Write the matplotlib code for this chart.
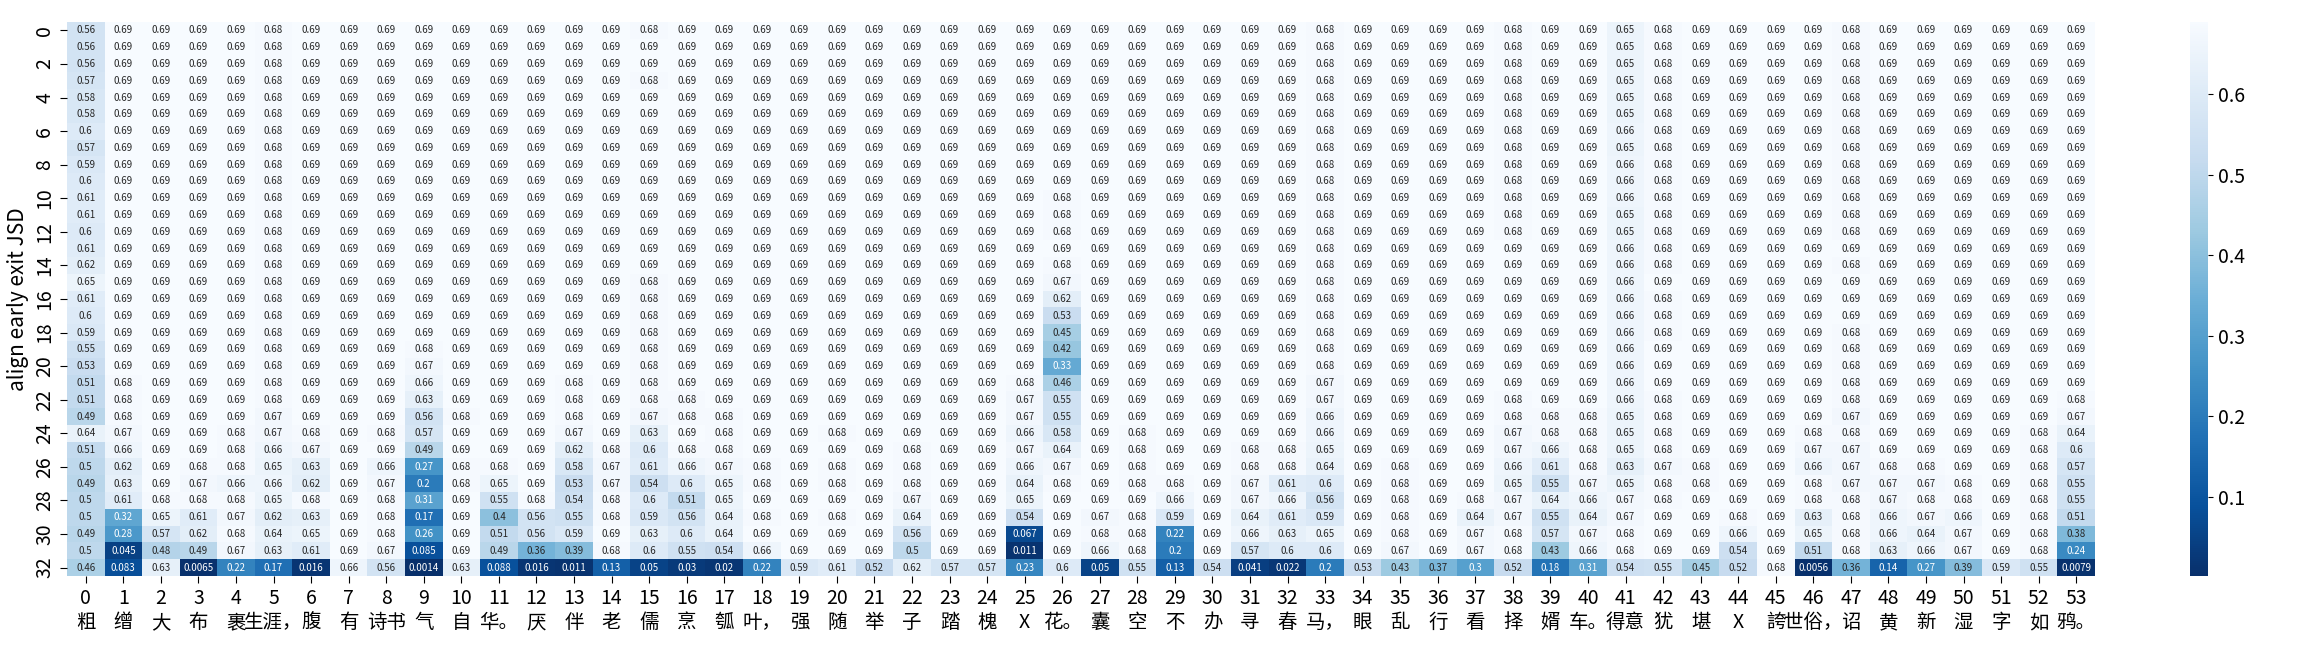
import matplotlib
matplotlib.use('Agg')
import matplotlib.pyplot as plt
import numpy as np
import seaborn as sns

plt.rcParams['font.family'] = ['Noto Sans CJK SC', 'DejaVu Sans']

# tokens of the poem (x axis)
tokens = ['粗', '缯', '大', '布', '裹', '生涯，', '腹', '有', '诗书', '气',
          '自', '华。', '厌', '伴', '老', '儒', '烹', '瓠', '叶，', '强',
          '随', '举', '子', '踏', '槐', 'X', '花。', '囊', '空', '不',
          '办', '寻', '春', '马，', '眼', '乱', '行', '看', '择', '婿',
          '车。', '得意', '犹', '堪', 'X', '誇', '世俗，', '诏', '黄', '新',
          '湿', '字', '如', '鸦。']

# JSD per layer (rows 0..32), one list per token column
c00 = [0.56, 0.56, 0.56, 0.57, 0.58, 0.58, 0.6, 0.57, 0.59, 0.6, 0.61, 0.61, 0.6, 0.61, 0.62, 0.65,
       0.61, 0.6, 0.59, 0.55, 0.53, 0.51, 0.51, 0.49, 0.64, 0.51, 0.5, 0.49, 0.5, 0.5, 0.49, 0.5, 0.46]
c01 = [0.69, 0.69, 0.69, 0.69, 0.69, 0.69, 0.69, 0.69, 0.69, 0.69, 0.69, 0.69, 0.69, 0.69, 0.69, 0.69,
       0.69, 0.69, 0.69, 0.69, 0.69, 0.68, 0.68, 0.68, 0.67, 0.66, 0.62, 0.63, 0.61, 0.32, 0.28, 0.045, 0.083]
c02 = [0.69, 0.69, 0.69, 0.69, 0.69, 0.69, 0.69, 0.69, 0.69, 0.69, 0.69, 0.69, 0.69, 0.69, 0.69, 0.69,
       0.69, 0.69, 0.69, 0.69, 0.69, 0.69, 0.69, 0.69, 0.69, 0.69, 0.69, 0.69, 0.68, 0.65, 0.57, 0.48, 0.63]
c03 = [0.69, 0.69, 0.69, 0.69, 0.69, 0.69, 0.69, 0.69, 0.69, 0.69, 0.69, 0.69, 0.69, 0.69, 0.69, 0.69,
       0.69, 0.69, 0.69, 0.69, 0.69, 0.69, 0.69, 0.69, 0.69, 0.69, 0.68, 0.67, 0.68, 0.61, 0.62, 0.49, 0.0065]
c04 = [0.69, 0.69, 0.69, 0.69, 0.69, 0.69, 0.69, 0.69, 0.69, 0.69, 0.69, 0.69, 0.69, 0.69, 0.69, 0.69,
       0.69, 0.69, 0.69, 0.69, 0.69, 0.69, 0.69, 0.69, 0.68, 0.68, 0.68, 0.66, 0.68, 0.67, 0.68, 0.67, 0.22]
c05 = [0.68, 0.68, 0.68, 0.68, 0.68, 0.68, 0.68, 0.68, 0.68, 0.68, 0.68, 0.68, 0.68, 0.68, 0.68, 0.68,
       0.68, 0.68, 0.68, 0.68, 0.68, 0.68, 0.68, 0.67, 0.67, 0.66, 0.65, 0.66, 0.65, 0.62, 0.64, 0.63, 0.17]
c06 = [0.69, 0.69, 0.69, 0.69, 0.69, 0.69, 0.69, 0.69, 0.69, 0.69, 0.69, 0.69, 0.69, 0.69, 0.69, 0.69,
       0.69, 0.69, 0.69, 0.69, 0.69, 0.69, 0.69, 0.69, 0.68, 0.67, 0.63, 0.62, 0.68, 0.63, 0.65, 0.61, 0.016]
c07 = [0.69, 0.69, 0.69, 0.69, 0.69, 0.69, 0.69, 0.69, 0.69, 0.69, 0.69, 0.69, 0.69, 0.69, 0.69, 0.69,
       0.69, 0.69, 0.69, 0.69, 0.69, 0.69, 0.69, 0.69, 0.69, 0.69, 0.69, 0.69, 0.69, 0.69, 0.69, 0.69, 0.66]
c08 = [0.69, 0.69, 0.69, 0.69, 0.69, 0.69, 0.69, 0.69, 0.69, 0.69, 0.69, 0.69, 0.69, 0.69, 0.69, 0.69,
       0.69, 0.69, 0.69, 0.69, 0.69, 0.69, 0.69, 0.69, 0.68, 0.69, 0.66, 0.67, 0.68, 0.68, 0.68, 0.67, 0.56]
c09 = [0.69, 0.69, 0.69, 0.69, 0.69, 0.69, 0.69, 0.69, 0.69, 0.69, 0.69, 0.69, 0.69, 0.69, 0.69, 0.69,
       0.69, 0.69, 0.69, 0.68, 0.67, 0.66, 0.63, 0.56, 0.57, 0.49, 0.27, 0.2, 0.31, 0.17, 0.26, 0.085, 0.0014]
c10 = [0.69, 0.69, 0.69, 0.69, 0.69, 0.69, 0.69, 0.69, 0.69, 0.69, 0.69, 0.69, 0.69, 0.69, 0.69, 0.69,
       0.69, 0.69, 0.69, 0.69, 0.69, 0.69, 0.69, 0.68, 0.69, 0.69, 0.68, 0.68, 0.69, 0.69, 0.69, 0.69, 0.63]
c11 = [0.69, 0.69, 0.69, 0.69, 0.69, 0.69, 0.69, 0.69, 0.69, 0.69, 0.69, 0.69, 0.69, 0.69, 0.69, 0.69,
       0.69, 0.69, 0.69, 0.69, 0.69, 0.69, 0.69, 0.69, 0.69, 0.69, 0.68, 0.65, 0.55, 0.4, 0.51, 0.49, 0.088]
c12 = [0.69, 0.69, 0.69, 0.69, 0.69, 0.69, 0.69, 0.69, 0.69, 0.69, 0.69, 0.69, 0.69, 0.69, 0.69, 0.69,
       0.69, 0.69, 0.69, 0.69, 0.69, 0.69, 0.69, 0.69, 0.69, 0.69, 0.69, 0.69, 0.68, 0.56, 0.56, 0.36, 0.016]
c13 = [0.69, 0.69, 0.69, 0.69, 0.69, 0.69, 0.69, 0.69, 0.69, 0.69, 0.69, 0.69, 0.69, 0.69, 0.69, 0.69,
       0.69, 0.69, 0.69, 0.69, 0.69, 0.68, 0.68, 0.68, 0.67, 0.62, 0.58, 0.53, 0.54, 0.55, 0.59, 0.39, 0.011]
c14 = [0.69, 0.69, 0.69, 0.69, 0.69, 0.69, 0.69, 0.69, 0.69, 0.69, 0.69, 0.69, 0.69, 0.69, 0.69, 0.69,
       0.69, 0.69, 0.69, 0.69, 0.69, 0.69, 0.69, 0.69, 0.69, 0.68, 0.67, 0.67, 0.68, 0.68, 0.69, 0.68, 0.13]
c15 = [0.68, 0.69, 0.69, 0.68, 0.69, 0.69, 0.69, 0.69, 0.69, 0.69, 0.69, 0.69, 0.69, 0.69, 0.69, 0.68,
       0.68, 0.68, 0.68, 0.68, 0.68, 0.68, 0.68, 0.67, 0.63, 0.6, 0.61, 0.54, 0.6, 0.59, 0.63, 0.6, 0.05]
c16 = [0.69, 0.69, 0.69, 0.69, 0.69, 0.69, 0.69, 0.69, 0.69, 0.69, 0.69, 0.69, 0.69, 0.69, 0.69, 0.69,
       0.69, 0.69, 0.69, 0.69, 0.69, 0.69, 0.68, 0.68, 0.69, 0.68, 0.66, 0.6, 0.51, 0.56, 0.6, 0.55, 0.03]
c17 = [0.69, 0.69, 0.69, 0.69, 0.69, 0.69, 0.69, 0.69, 0.69, 0.69, 0.69, 0.69, 0.69, 0.69, 0.69, 0.69,
       0.69, 0.69, 0.69, 0.69, 0.69, 0.69, 0.69, 0.68, 0.68, 0.68, 0.67, 0.65, 0.65, 0.64, 0.64, 0.54, 0.02]
c18 = [0.69, 0.69, 0.69, 0.69, 0.69, 0.69, 0.69, 0.69, 0.69, 0.69, 0.69, 0.69, 0.69, 0.69, 0.69, 0.69,
       0.69, 0.69, 0.69, 0.69, 0.69, 0.69, 0.69, 0.69, 0.69, 0.69, 0.68, 0.68, 0.69, 0.68, 0.69, 0.66, 0.22]
c19 = [0.69, 0.69, 0.69, 0.69, 0.69, 0.69, 0.69, 0.69, 0.69, 0.69, 0.69, 0.69, 0.69, 0.69, 0.69, 0.69,
       0.69, 0.69, 0.69, 0.69, 0.69, 0.69, 0.69, 0.69, 0.69, 0.69, 0.69, 0.69, 0.69, 0.69, 0.69, 0.69, 0.59]
c20 = [0.69, 0.69, 0.69, 0.69, 0.69, 0.69, 0.69, 0.69, 0.69, 0.69, 0.69, 0.69, 0.69, 0.69, 0.69, 0.69,
       0.69, 0.69, 0.69, 0.69, 0.69, 0.69, 0.69, 0.69, 0.68, 0.69, 0.68, 0.68, 0.69, 0.68, 0.69, 0.69, 0.61]
c21 = [0.69, 0.69, 0.69, 0.69, 0.69, 0.69, 0.69, 0.69, 0.69, 0.69, 0.69, 0.69, 0.69, 0.69, 0.69, 0.69,
       0.69, 0.69, 0.69, 0.69, 0.69, 0.69, 0.69, 0.69, 0.69, 0.69, 0.69, 0.69, 0.69, 0.69, 0.69, 0.69, 0.52]
c22 = [0.69, 0.69, 0.69, 0.69, 0.69, 0.69, 0.69, 0.69, 0.69, 0.69, 0.69, 0.69, 0.69, 0.69, 0.69, 0.69,
       0.69, 0.69, 0.69, 0.69, 0.69, 0.69, 0.69, 0.69, 0.69, 0.68, 0.68, 0.68, 0.67, 0.64, 0.56, 0.5, 0.62]
c23 = [0.69, 0.69, 0.69, 0.69, 0.69, 0.69, 0.69, 0.69, 0.69, 0.69, 0.69, 0.69, 0.69, 0.69, 0.69, 0.69,
       0.69, 0.69, 0.69, 0.69, 0.69, 0.69, 0.69, 0.69, 0.69, 0.69, 0.69, 0.69, 0.69, 0.69, 0.69, 0.69, 0.57]
c24 = [0.69, 0.69, 0.69, 0.69, 0.69, 0.69, 0.69, 0.69, 0.69, 0.69, 0.69, 0.69, 0.69, 0.69, 0.69, 0.69,
       0.69, 0.69, 0.69, 0.69, 0.69, 0.69, 0.69, 0.69, 0.69, 0.69, 0.69, 0.69, 0.69, 0.69, 0.69, 0.69, 0.57]
c25 = [0.69, 0.69, 0.69, 0.69, 0.69, 0.69, 0.69, 0.69, 0.69, 0.69, 0.69, 0.69, 0.69, 0.69, 0.69, 0.69,
       0.69, 0.69, 0.69, 0.69, 0.69, 0.68, 0.67, 0.67, 0.66, 0.67, 0.66, 0.64, 0.65, 0.54, 0.067, 0.011, 0.23]
c26 = [0.69, 0.69, 0.69, 0.69, 0.69, 0.69, 0.69, 0.69, 0.69, 0.69, 0.68, 0.68, 0.68, 0.69, 0.68, 0.67,
       0.62, 0.53, 0.45, 0.42, 0.33, 0.46, 0.55, 0.55, 0.58, 0.64, 0.67, 0.68, 0.69, 0.69, 0.69, 0.69, 0.6]
c27 = [0.69, 0.69, 0.69, 0.69, 0.69, 0.69, 0.69, 0.69, 0.69, 0.69, 0.69, 0.69, 0.69, 0.69, 0.69, 0.69,
       0.69, 0.69, 0.69, 0.69, 0.69, 0.69, 0.69, 0.69, 0.69, 0.69, 0.69, 0.69, 0.69, 0.67, 0.68, 0.66, 0.05]
c28 = [0.69, 0.69, 0.69, 0.69, 0.69, 0.69, 0.69, 0.69, 0.69, 0.69, 0.69, 0.69, 0.69, 0.69, 0.69, 0.69,
       0.69, 0.69, 0.69, 0.69, 0.69, 0.69, 0.69, 0.69, 0.68, 0.68, 0.68, 0.68, 0.69, 0.68, 0.68, 0.68, 0.55]
c29 = [0.69, 0.69, 0.69, 0.69, 0.69, 0.69, 0.69, 0.69, 0.69, 0.69, 0.69, 0.69, 0.69, 0.69, 0.69, 0.69,
       0.69, 0.69, 0.69, 0.69, 0.69, 0.69, 0.69, 0.69, 0.69, 0.69, 0.69, 0.68, 0.66, 0.59, 0.22, 0.2, 0.13]
c30 = [0.69, 0.69, 0.69, 0.69, 0.69, 0.69, 0.69, 0.69, 0.69, 0.69, 0.69, 0.69, 0.69, 0.69, 0.69, 0.69,
       0.69, 0.69, 0.69, 0.69, 0.69, 0.69, 0.69, 0.69, 0.69, 0.69, 0.69, 0.69, 0.69, 0.69, 0.69, 0.69, 0.54]
c31 = [0.69, 0.69, 0.69, 0.69, 0.69, 0.69, 0.69, 0.69, 0.69, 0.69, 0.69, 0.69, 0.69, 0.69, 0.69, 0.69,
       0.69, 0.69, 0.69, 0.69, 0.69, 0.69, 0.69, 0.69, 0.69, 0.68, 0.68, 0.67, 0.67, 0.64, 0.66, 0.57, 0.041]
c32 = [0.69, 0.69, 0.69, 0.69, 0.69, 0.69, 0.69, 0.69, 0.69, 0.69, 0.69, 0.69, 0.69, 0.69, 0.69, 0.69,
       0.69, 0.69, 0.69, 0.69, 0.69, 0.69, 0.69, 0.69, 0.69, 0.68, 0.68, 0.61, 0.66, 0.61, 0.63, 0.6, 0.022]
c33 = [0.68, 0.68, 0.68, 0.68, 0.68, 0.68, 0.68, 0.68, 0.68, 0.68, 0.68, 0.68, 0.68, 0.68, 0.68, 0.68,
       0.68, 0.68, 0.68, 0.68, 0.68, 0.67, 0.67, 0.66, 0.66, 0.65, 0.64, 0.6, 0.56, 0.59, 0.65, 0.6, 0.2]
c34 = [0.69, 0.69, 0.69, 0.69, 0.69, 0.69, 0.69, 0.69, 0.69, 0.69, 0.69, 0.69, 0.69, 0.69, 0.69, 0.69,
       0.69, 0.69, 0.69, 0.69, 0.69, 0.69, 0.69, 0.69, 0.69, 0.69, 0.69, 0.69, 0.69, 0.69, 0.69, 0.69, 0.53]
c35 = [0.69, 0.69, 0.69, 0.69, 0.69, 0.69, 0.69, 0.69, 0.69, 0.69, 0.69, 0.69, 0.69, 0.69, 0.69, 0.69,
       0.69, 0.69, 0.69, 0.69, 0.69, 0.69, 0.69, 0.69, 0.69, 0.69, 0.68, 0.68, 0.68, 0.68, 0.68, 0.67, 0.43]
c36 = [0.69, 0.69, 0.69, 0.69, 0.69, 0.69, 0.69, 0.69, 0.69, 0.69, 0.69, 0.69, 0.69, 0.69, 0.69, 0.69,
       0.69, 0.69, 0.69, 0.69, 0.69, 0.69, 0.69, 0.69, 0.69, 0.69, 0.69, 0.69, 0.69, 0.69, 0.69, 0.69, 0.37]
c37 = [0.69, 0.69, 0.69, 0.69, 0.69, 0.69, 0.69, 0.69, 0.69, 0.69, 0.69, 0.69, 0.69, 0.69, 0.69, 0.69,
       0.69, 0.69, 0.69, 0.69, 0.69, 0.69, 0.69, 0.69, 0.69, 0.69, 0.69, 0.69, 0.68, 0.64, 0.67, 0.67, 0.3]
c38 = [0.68, 0.68, 0.68, 0.68, 0.68, 0.68, 0.68, 0.68, 0.68, 0.68, 0.68, 0.68, 0.68, 0.69, 0.69, 0.69,
       0.69, 0.69, 0.69, 0.69, 0.69, 0.69, 0.68, 0.68, 0.67, 0.67, 0.66, 0.65, 0.67, 0.67, 0.68, 0.68, 0.52]
c39 = [0.69, 0.69, 0.69, 0.69, 0.69, 0.69, 0.69, 0.69, 0.69, 0.69, 0.69, 0.69, 0.69, 0.69, 0.69, 0.69,
       0.69, 0.69, 0.69, 0.69, 0.69, 0.69, 0.69, 0.68, 0.68, 0.66, 0.61, 0.55, 0.64, 0.55, 0.57, 0.43, 0.18]
c40 = [0.69, 0.69, 0.69, 0.69, 0.69, 0.69, 0.69, 0.69, 0.69, 0.69, 0.69, 0.69, 0.69, 0.69, 0.69, 0.69,
       0.69, 0.69, 0.69, 0.69, 0.69, 0.69, 0.69, 0.68, 0.68, 0.68, 0.68, 0.67, 0.66, 0.64, 0.67, 0.66, 0.31]
c41 = [0.65, 0.65, 0.65, 0.65, 0.65, 0.65, 0.66, 0.65, 0.66, 0.66, 0.66, 0.65, 0.65, 0.66, 0.66, 0.66,
       0.66, 0.66, 0.66, 0.66, 0.66, 0.66, 0.66, 0.65, 0.65, 0.65, 0.63, 0.65, 0.67, 0.67, 0.68, 0.68, 0.54]
c42 = [0.68, 0.68, 0.68, 0.68, 0.68, 0.68, 0.68, 0.68, 0.68, 0.68, 0.68, 0.68, 0.68, 0.68, 0.68, 0.69,
       0.68, 0.68, 0.68, 0.69, 0.69, 0.69, 0.68, 0.68, 0.68, 0.68, 0.67, 0.68, 0.68, 0.69, 0.69, 0.69, 0.55]
c43 = [0.69, 0.69, 0.69, 0.69, 0.69, 0.69, 0.69, 0.69, 0.69, 0.69, 0.69, 0.69, 0.69, 0.69, 0.69, 0.69,
       0.69, 0.69, 0.69, 0.69, 0.69, 0.69, 0.69, 0.69, 0.69, 0.69, 0.68, 0.68, 0.69, 0.69, 0.69, 0.69, 0.45]
c44 = [0.69, 0.69, 0.69, 0.69, 0.69, 0.69, 0.69, 0.69, 0.69, 0.69, 0.69, 0.69, 0.69, 0.69, 0.69, 0.69,
       0.69, 0.69, 0.69, 0.69, 0.69, 0.69, 0.69, 0.69, 0.69, 0.69, 0.69, 0.69, 0.69, 0.68, 0.66, 0.54, 0.52]
c45 = [0.69, 0.69, 0.69, 0.69, 0.69, 0.69, 0.69, 0.69, 0.69, 0.69, 0.69, 0.69, 0.69, 0.69, 0.69, 0.69,
       0.69, 0.69, 0.69, 0.69, 0.69, 0.69, 0.69, 0.69, 0.69, 0.69, 0.69, 0.69, 0.69, 0.69, 0.69, 0.69, 0.68]
c46 = [0.69, 0.69, 0.69, 0.69, 0.69, 0.69, 0.69, 0.69, 0.69, 0.69, 0.69, 0.69, 0.69, 0.69, 0.69, 0.69,
       0.69, 0.69, 0.69, 0.69, 0.69, 0.69, 0.69, 0.69, 0.68, 0.67, 0.66, 0.68, 0.68, 0.63, 0.65, 0.51, 0.0056]
c47 = [0.68, 0.68, 0.68, 0.68, 0.68, 0.68, 0.68, 0.68, 0.68, 0.68, 0.68, 0.68, 0.68, 0.69, 0.68, 0.69,
       0.69, 0.69, 0.68, 0.68, 0.68, 0.68, 0.68, 0.67, 0.68, 0.67, 0.67, 0.67, 0.68, 0.68, 0.68, 0.68, 0.36]
c48 = [0.69, 0.69, 0.69, 0.69, 0.69, 0.69, 0.69, 0.69, 0.69, 0.69, 0.69, 0.69, 0.69, 0.69, 0.69, 0.69,
       0.69, 0.69, 0.69, 0.69, 0.69, 0.69, 0.69, 0.69, 0.69, 0.69, 0.68, 0.67, 0.67, 0.66, 0.66, 0.63, 0.14]
c49 = [0.69, 0.69, 0.69, 0.69, 0.69, 0.69, 0.69, 0.69, 0.69, 0.69, 0.69, 0.69, 0.69, 0.69, 0.69, 0.69,
       0.69, 0.69, 0.69, 0.69, 0.69, 0.69, 0.69, 0.69, 0.69, 0.69, 0.68, 0.67, 0.68, 0.67, 0.64, 0.66, 0.27]
c50 = [0.69, 0.69, 0.69, 0.69, 0.69, 0.69, 0.69, 0.69, 0.69, 0.69, 0.69, 0.69, 0.69, 0.69, 0.69, 0.69,
       0.69, 0.69, 0.69, 0.69, 0.69, 0.69, 0.69, 0.69, 0.69, 0.69, 0.69, 0.68, 0.68, 0.66, 0.67, 0.67, 0.39]
c51 = [0.69, 0.69, 0.69, 0.69, 0.69, 0.69, 0.69, 0.69, 0.69, 0.69, 0.69, 0.69, 0.69, 0.69, 0.69, 0.69,
       0.69, 0.69, 0.69, 0.69, 0.69, 0.69, 0.69, 0.69, 0.69, 0.69, 0.69, 0.69, 0.69, 0.69, 0.69, 0.69, 0.59]
c52 = [0.69, 0.69, 0.69, 0.69, 0.69, 0.69, 0.69, 0.69, 0.69, 0.69, 0.69, 0.69, 0.69, 0.69, 0.69, 0.69,
       0.69, 0.69, 0.69, 0.69, 0.69, 0.69, 0.69, 0.69, 0.68, 0.68, 0.68, 0.68, 0.68, 0.68, 0.68, 0.68, 0.55]
c53 = [0.69, 0.69, 0.69, 0.69, 0.69, 0.69, 0.69, 0.69, 0.69, 0.69, 0.69, 0.69, 0.69, 0.69, 0.69, 0.69,
       0.69, 0.69, 0.69, 0.69, 0.69, 0.69, 0.68, 0.67, 0.64, 0.6, 0.57, 0.55, 0.55, 0.51, 0.38, 0.24, 0.0079]

columns = [c00, c01, c02, c03, c04, c05, c06, c07, c08, c09, c10, c11, c12, c13, c14, c15, c16, c17,
           c18, c19, c20, c21, c22, c23, c24, c25, c26, c27, c28, c29, c30, c31, c32, c33, c34, c35,
           c36, c37, c38, c39, c40, c41, c42, c43, c44, c45, c46, c47, c48, c49, c50, c51, c52, c53]
for c in columns:
    assert len(c) == 33
jsd = np.array(columns).T  # rows = layers, cols = tokens

fig = plt.figure(figsize=(23.04, 6.48), dpi=100)
ax = fig.add_axes([67 / 2304, 72 / 648, 2028 / 2304, 554 / 648])
cax = fig.add_axes([2190 / 2304, 72 / 648, 18 / 2304, 554 / 648])

xlabels = [f'{i}\n{t}' for i, t in enumerate(tokens)]
sns.heatmap(jsd, ax=ax, cbar_ax=cax, cmap='Blues_r', annot=True, fmt='.2g',
            annot_kws={'size': 7}, xticklabels=xlabels, yticklabels=2)

ax.tick_params(axis='x', labelsize=14, length=5, labelrotation=0)
ax.tick_params(axis='y', labelsize=14, length=5, labelrotation=90)
for lab in ax.get_yticklabels():
    lab.set_rotation(90)
    lab.set_verticalalignment('center')
ax.set_ylabel('align early exit JSD', fontsize=15)
cax.tick_params(labelsize=14)

fig.savefig('out.png', dpi=100)
